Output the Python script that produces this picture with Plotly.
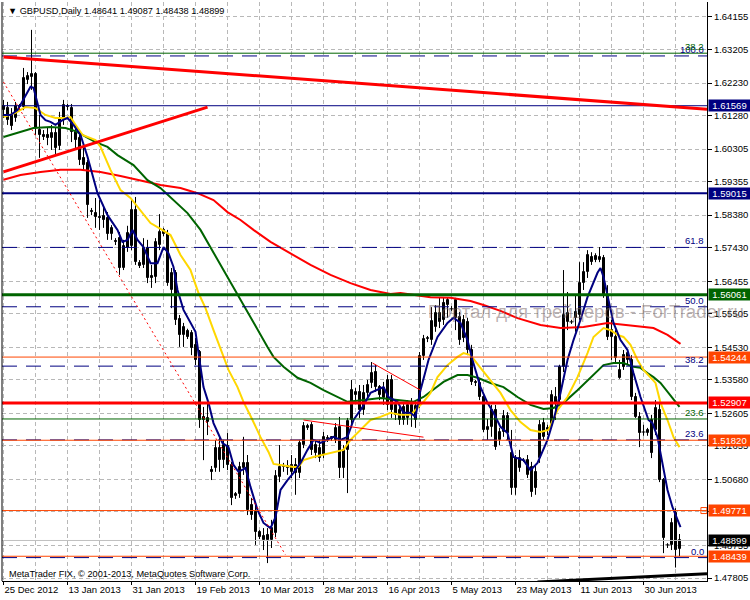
import plotly.graph_objects as go

# ---------------- data ----------------
date_label_bars = [0, 16, 32, 48, 64, 80, 96, 112, 128, 144, 160]
date_labels = ["25 Dec 2012", "13 Jan 2013", "31 Jan 2013", "19 Feb 2013", "10 Mar 2013",
               "28 Mar 2013", "16 Apr 2013", "5 May 2013", "23 May 2013", "11 Jun 2013", "30 Jun 2013"]

opens = [1.6144, 1.6150, 1.6130, 1.6121, 1.6156, 1.6153, 1.6232, 1.6241, 1.6249, 1.6086,
         1.6072, 1.6072, 1.6063, 1.6078, 1.6040, 1.6121, 1.6156, 1.6150, 1.6080, 1.6063,
         1.6005, 1.5990, 1.5850, 1.5844, 1.5833, 1.5836, 1.5830, 1.5783, 1.5763, 1.5771,
         1.5684, 1.5742, 1.5748, 1.5853, 1.5698, 1.5693, 1.5742, 1.5661, 1.5658, 1.5751,
         1.5795, 1.5783, 1.5620, 1.5670, 1.5536, 1.5489, 1.5501, 1.5495, 1.5460, 1.5439,
         1.5250, 1.5235, 1.5095, 1.5101, 1.5159, 1.5124, 1.5165, 1.5110, 1.5020, 1.5025,
         1.5101, 1.5116, 1.4993, 1.4973, 1.4915, 1.4903, 1.4906, 1.4891, 1.4912, 1.5075,
         1.5104, 1.5107, 1.5090, 1.5110, 1.5087, 1.5168, 1.5218, 1.5227, 1.5168, 1.5130,
         1.5139, 1.5189, 1.5186, 1.5183, 1.5221, 1.5101, 1.5154, 1.5241, 1.5314, 1.5323,
         1.5270, 1.5320, 1.5349, 1.5381, 1.5337, 1.5305, 1.5285, 1.5358, 1.5285, 1.5241,
         1.5279, 1.5247, 1.5285, 1.5241, 1.5285, 1.5428, 1.5477, 1.5474, 1.5512, 1.5527,
         1.5582, 1.5576, 1.5565, 1.5539, 1.5541, 1.5533, 1.5527, 1.5445, 1.5352, 1.5349,
         1.5308, 1.5212, 1.5221, 1.5270, 1.5183, 1.5206, 1.5253, 1.5145, 1.5043, 1.5101,
         1.5124, 1.5081, 1.5104, 1.5090, 1.5130, 1.5192, 1.5212, 1.5230, 1.5291, 1.5299,
         1.5396, 1.5527, 1.5527, 1.5556, 1.5547, 1.5640, 1.5672, 1.5716, 1.5719, 1.5707,
         1.5713, 1.5605, 1.5483, 1.5483, 1.5364, 1.5430, 1.5416, 1.5416, 1.5308, 1.5250,
         1.5206, 1.5203, 1.5241, 1.5212, 1.5270, 1.5066, 1.4877, 1.4877, 1.4970, 1.48641]
highs = [1.6174, 1.6168, 1.6150, 1.6168, 1.6162, 1.6267, 1.6255, 1.6378, 1.6255, 1.6130,
         1.6086, 1.6092, 1.6101, 1.6092, 1.6139, 1.6174, 1.6162, 1.6162, 1.6101, 1.6080,
         1.6034, 1.5999, 1.5859, 1.5888, 1.5882, 1.5868, 1.5847, 1.5809, 1.5771, 1.5789,
         1.5766, 1.5807, 1.5882, 1.5891, 1.5707, 1.5771, 1.5766, 1.5693, 1.5771, 1.5841,
         1.5801, 1.5795, 1.5684, 1.5678, 1.5547, 1.5524, 1.5507, 1.5503, 1.5480, 1.5445,
         1.5279, 1.5299, 1.5107, 1.5183, 1.5189, 1.5183, 1.5203, 1.5119, 1.5031, 1.5119,
         1.5192, 1.5139, 1.5014, 1.4993, 1.4920, 1.4926, 1.4926, 1.4950, 1.5095, 1.5168,
         1.5116, 1.5124, 1.5139, 1.5130, 1.5183, 1.5235, 1.5230, 1.5235, 1.5183, 1.5183,
         1.5206, 1.5197, 1.5194, 1.5232, 1.5250, 1.5168, 1.5247, 1.5358, 1.5334, 1.5343,
         1.5343, 1.5358, 1.5410, 1.5402, 1.5343, 1.5352, 1.5372, 1.5372, 1.5299, 1.5285,
         1.5291, 1.5299, 1.5305, 1.5299, 1.5439, 1.5489, 1.5486, 1.5570, 1.5576, 1.5597,
         1.5599, 1.5597, 1.5573, 1.5597, 1.5556, 1.5547, 1.5539, 1.5460, 1.5358, 1.5364,
         1.5320, 1.5244, 1.5285, 1.5285, 1.5218, 1.5270, 1.5264, 1.5212, 1.5139, 1.5154,
         1.5130, 1.5139, 1.5119, 1.5110, 1.5241, 1.5247, 1.5227, 1.5328, 1.5337, 1.5402,
         1.5678, 1.5614, 1.5533, 1.5605, 1.5701, 1.5701, 1.5736, 1.5730, 1.5727, 1.5745,
         1.5722, 1.5634, 1.5533, 1.5503, 1.5416, 1.5445, 1.5445, 1.5430, 1.5320, 1.5264,
         1.5227, 1.5218, 1.5256, 1.5299, 1.5291, 1.5072, 1.4882, 1.4955, 1.4984, 1.49087]
lows = [1.6121, 1.6101, 1.6086, 1.6110, 1.6144, 1.6144, 1.6220, 1.6203, 1.6072, 1.6005,
        1.6057, 1.6042, 1.6028, 1.6013, 1.6028, 1.6101, 1.6144, 1.6051, 1.6028, 1.5984,
        1.5970, 1.5830, 1.5838, 1.5801, 1.5795, 1.5801, 1.5766, 1.5766, 1.5751, 1.5664,
        1.5678, 1.5731, 1.5736, 1.5693, 1.5684, 1.5684, 1.5640, 1.5626, 1.5640, 1.5736,
        1.5777, 1.5632, 1.5567, 1.5518, 1.5454, 1.5454, 1.5477, 1.5430, 1.5401, 1.5218,
        1.5124, 1.5197, 1.5066, 1.5090, 1.5090, 1.5101, 1.5095, 1.4993, 1.5011, 1.5014,
        1.5081, 1.4964, 1.4950, 1.4877, 1.4894, 1.4862, 1.4824, 1.4868, 1.4900, 1.5060,
        1.5090, 1.5081, 1.5072, 1.5023, 1.5072, 1.5159, 1.5212, 1.5139, 1.5130, 1.5119,
        1.5130, 1.5177, 1.5180, 1.5174, 1.5072, 1.5072, 1.5028, 1.5218, 1.5299, 1.5247,
        1.5256, 1.5305, 1.5334, 1.5323, 1.5299, 1.5285, 1.5270, 1.5247, 1.5241, 1.5227,
        1.5227, 1.5227, 1.5221, 1.5218, 1.5276, 1.5416, 1.5468, 1.5460, 1.5498, 1.5509,
        1.5518, 1.5539, 1.5559, 1.5503, 1.5460, 1.5468, 1.5430, 1.5343, 1.5340, 1.5299,
        1.5206, 1.5183, 1.5192, 1.5154, 1.5168, 1.5192, 1.5183, 1.5023, 1.5023, 1.5090,
        1.5119, 1.5072, 1.5017, 1.5023, 1.5116, 1.5183, 1.5197, 1.5224, 1.5241, 1.5291,
        1.5381, 1.5503, 1.5521, 1.5498, 1.5533, 1.5620, 1.5655, 1.5693, 1.5701, 1.5701,
        1.5597, 1.5474, 1.5416, 1.5410, 1.5361, 1.5387, 1.5401, 1.5299, 1.5247, 1.5162,
        1.5195, 1.5195, 1.5130, 1.5197, 1.5060, 1.4853, 1.4868, 1.4862, 1.4811, 1.48438]
closes = [1.6156, 1.6115, 1.6098, 1.6156, 1.6153, 1.6238, 1.6244, 1.6250, 1.6092, 1.6072,
          1.6066, 1.6063, 1.6078, 1.6034, 1.6121, 1.6159, 1.6153, 1.6080, 1.6057, 1.5999,
          1.5984, 1.5868, 1.5847, 1.5833, 1.5830, 1.5824, 1.5783, 1.5801, 1.5760, 1.5684,
          1.5748, 1.5786, 1.5853, 1.5701, 1.5690, 1.5742, 1.5655, 1.5655, 1.5760, 1.5789,
          1.5783, 1.5640, 1.5670, 1.5533, 1.5489, 1.5512, 1.5483, 1.5451, 1.5416, 1.5241,
          1.5241, 1.5247, 1.5090, 1.5159, 1.5124, 1.5168, 1.5110, 1.5014, 1.5025, 1.5104,
          1.5116, 1.4979, 1.4964, 1.4915, 1.4900, 1.4891, 1.4891, 1.4926, 1.5078, 1.5104,
          1.5107, 1.5101, 1.5110, 1.5087, 1.5174, 1.5224, 1.5224, 1.5154, 1.5145, 1.5159,
          1.5192, 1.5186, 1.5192, 1.5218, 1.5101, 1.5154, 1.5238, 1.5328, 1.5323, 1.5270,
          1.5320, 1.5343, 1.5378, 1.5337, 1.5314, 1.5334, 1.5358, 1.5270, 1.5256, 1.5270,
          1.5241, 1.5285, 1.5256, 1.5282, 1.5428, 1.5477, 1.5480, 1.5530, 1.5553, 1.5553,
          1.5533, 1.5591, 1.5565, 1.5591, 1.5474, 1.5480, 1.5445, 1.5352, 1.5349, 1.5308,
          1.5212, 1.5221, 1.5270, 1.5162, 1.5206, 1.5253, 1.5203, 1.5043, 1.5130, 1.5130,
          1.5124, 1.5124, 1.5031, 1.5043, 1.5227, 1.5233, 1.5218, 1.5314, 1.5308, 1.5396,
          1.5547, 1.5553, 1.5527, 1.5539, 1.5640, 1.5672, 1.5722, 1.5701, 1.5707, 1.5716,
          1.5605, 1.5483, 1.5503, 1.5422, 1.5387, 1.5396, 1.5436, 1.5308, 1.5250, 1.5203,
          1.5206, 1.5212, 1.5145, 1.5276, 1.5066, 1.4897, 1.4877, 1.4941, 1.4862, 1.48899]

# moving averages: (bar index, price)
ma_blue_x = [0, 1.75, 3.5, 5, 6.75, 7.5, 8.5, 9.25, 10.5, 11.75, 13, 14.75, 16, 17.5, 19.25, 21, 23.5, 26,
             28.5, 29.75, 31, 32.25, 33.5, 35, 36.75, 38.5, 40, 41.25, 42.5, 43.5, 45, 46.75, 48, 48.75,
             50, 51.25, 52.5, 54.75, 56.25, 57.5, 58.75, 60.5, 61.75, 63.5, 65, 66.75, 68, 69.25, 71,
             72.5, 74.25, 76, 77.5, 79.25, 81, 82.5, 84.25, 86, 87.5, 89.75, 91.75, 93.5, 95, 96.25,
             98.5, 100, 101.75, 103, 104.25, 106.25, 108.5, 111, 112.5, 114.25, 116, 117.25, 119.25,
             121, 122.5, 124.25, 126, 127.5, 130, 131.75, 133.5, 136, 137.5, 139.25, 141, 142.5,
             144.25, 146, 148.5, 149.25, 150, 151.25, 152.5, 154.25, 156, 157.5, 159.25, 161.25,
             162.25, 163.5, 164.75, 166, 167.25, 168.5, 169.25]
ma_blue_y = [1.6130, 1.6130, 1.6144, 1.6174, 1.6212, 1.6209, 1.6159, 1.6130, 1.6115, 1.6110, 1.6101,
             1.6115, 1.6121, 1.6101, 1.6072, 1.6008, 1.5902, 1.5838, 1.5795, 1.5760, 1.5766, 1.5795,
             1.5766, 1.5745, 1.5698, 1.5698, 1.5745, 1.5727, 1.5687, 1.5620, 1.5562, 1.5524, 1.5498,
             1.5436, 1.5337, 1.5291, 1.5232, 1.5174, 1.5162, 1.5110, 1.5090, 1.5101, 1.5046, 1.4979,
             1.4941, 1.4926, 1.4958, 1.5037, 1.5066, 1.5087, 1.5116, 1.5154, 1.5183, 1.5174, 1.5183,
             1.5192, 1.5183, 1.5192, 1.5241, 1.5279, 1.5320, 1.5328, 1.5337, 1.5308, 1.5294, 1.5262,
             1.5262, 1.5250, 1.5328, 1.5416, 1.5483, 1.5524, 1.5539, 1.5524, 1.5474, 1.5416, 1.5337,
             1.5291, 1.5262, 1.5221, 1.5203, 1.5133, 1.5124, 1.5095, 1.5116, 1.5183, 1.5241, 1.5320,
             1.5416, 1.5474, 1.5533, 1.5599, 1.5670, 1.5684, 1.5658, 1.5591, 1.5524, 1.5474, 1.5445,
             1.5378, 1.5308, 1.5241, 1.5232, 1.5191, 1.5116, 1.5037, 1.4987, 1.4950, 1.4929]

ma_yellow_x = [0, 3, 5.5, 8, 10.5, 13, 15.5, 16.75, 18, 19.75, 23, 24.25, 26.75, 29.25, 31.75, 34.25,
               36.75, 39.25, 41.75, 44.25, 46.75, 48.75, 50.5, 52.5, 54.75, 56.25, 58.5, 60, 62.25,
               64.25, 66.25, 67.5, 69.25, 72.5, 73.75, 75, 77.5, 79.75, 82.5, 85, 86.75, 89.25, 91.75,
               94.25, 96.75, 99.25, 101.75, 103.5, 105, 106.75, 108.5, 111, 113.5, 115, 116.75, 119.25,
               121.75, 124.25, 126.75, 129.25, 131.75, 134.25, 136.25, 138.5, 141, 143.5, 146, 147.5,
               150, 151.75, 153.5, 155, 156.75, 158.5, 160, 161.75, 163, 164.25, 166, 167.5, 169]
ma_yellow_y = [1.6124, 1.6136, 1.6153, 1.6150, 1.6130, 1.6121, 1.6121, 1.6124, 1.6101, 1.6072, 1.6057,
               1.6037, 1.5970, 1.5911, 1.5888, 1.5853, 1.5815, 1.5798, 1.5780, 1.5722, 1.5678, 1.5611,
               1.5567, 1.5503, 1.5436, 1.5387, 1.5337, 1.5294, 1.5241, 1.5191, 1.5148, 1.5113, 1.5110,
               1.5104, 1.5104, 1.5124, 1.5133, 1.5139, 1.5148, 1.5154, 1.5183, 1.5212, 1.5241, 1.5250,
               1.5262, 1.5256, 1.5256, 1.5276, 1.5294, 1.5320, 1.5366, 1.5401, 1.5425, 1.5436, 1.5430,
               1.5393, 1.5358, 1.5320, 1.5270, 1.5235, 1.5212, 1.5206, 1.5212, 1.5270, 1.5308, 1.5366,
               1.5436, 1.5483, 1.5509, 1.5503, 1.5489, 1.5483, 1.5460, 1.5416, 1.5387, 1.5366, 1.5349,
               1.5291, 1.5241, 1.5191, 1.5162]

ma_green_x = [0, 4.25, 7.5, 11.75, 15.5, 18, 20.5, 23, 26, 28.5, 32.5, 36, 39.25, 42.5, 46, 49.25, 52.5,
              56, 59.25, 62.5, 66, 67.5, 70, 73.5, 76.75, 80, 83.5, 86, 88.5, 91.75, 94.25, 98.5, 102.5,
              105, 106.75, 110, 113.5, 116, 118.5, 121.75, 125, 128.5, 131.75, 135, 137.5, 140, 143.5,
              146.75, 150, 152.5, 155, 157.5, 159.25, 161, 162.5, 164.25, 166.25, 168, 169]
ma_green_y = [1.6066, 1.6080, 1.6092, 1.6095, 1.6092, 1.6083, 1.6066, 1.6051, 1.6037, 1.6013, 1.5984,
              1.5940, 1.5917, 1.5882, 1.5844, 1.5795, 1.5728, 1.5658, 1.5591, 1.5524, 1.5454, 1.5425,
              1.5396, 1.5364, 1.5349, 1.5328, 1.5308, 1.5294, 1.5297, 1.5302, 1.5305, 1.5299, 1.5294,
              1.5308, 1.5323, 1.5352, 1.5372, 1.5372, 1.5364, 1.5349, 1.5337, 1.5308, 1.5285, 1.5273,
              1.5276, 1.5291, 1.5328, 1.5366, 1.5401, 1.5407, 1.5407, 1.5396, 1.5393, 1.5378, 1.5366,
              1.5349, 1.5320, 1.5294, 1.5279]

ma_red_x = [0, 4.25, 9.25, 14.25, 19.25, 24.25, 29.25, 34.25, 39.25, 44.25, 48.5, 52.5, 56, 59.25, 62.5,
            66.75, 71.75, 76.75, 81.75, 86.75, 91.75, 96.75, 99.25, 106.75, 111.75, 116.75, 120, 124.25,
            128.5, 134.25, 139.25, 145, 151, 157.5, 162.5, 166, 169.25]
ma_red_y = [1.5941, 1.5955, 1.5964, 1.5970, 1.5970, 1.5964, 1.5952, 1.5938, 1.5926, 1.5917, 1.5902,
            1.5882, 1.5847, 1.5824, 1.5795, 1.5760, 1.5727, 1.5693, 1.5664, 1.5640, 1.5620, 1.5608,
            1.5611, 1.5599, 1.5597, 1.5588, 1.5576, 1.5559, 1.5538, 1.5518, 1.5509, 1.5512, 1.5524,
            1.5515, 1.5509, 1.5489, 1.5463]

base_line_x = [133.5, 144, 160, 175.875]
base_line_y = [1.4769, 1.4775, 1.4784, 1.4793]

price_ticks = [1.64155, 1.63205, 1.62230, 1.61280, 1.60305, 1.59355, 1.58380, 1.57430, 1.56455,
               1.55505, 1.54530, 1.53580, 1.52605, 1.51655, 1.50680, 1.49730, 1.48755, 1.47805]

level_prices = [1.61569, 1.59015, 1.56061, 1.54244, 1.52907, 1.51820, 1.49771, 1.48899, 1.48439]
level_box_colors = ["#000080", "#000080", "#006400", "#FF4500", "#FF0000", "#FF4500", "#FF4500", "#000000", "#FF4500"]
level_line_colors = ["#000080", "#000080", "#006400", "#FF4500", "#FF0000", "#FF4500", "#FF4500", "#C0C0C0", "#FF4500"]
level_widths = [1, 2, 3, 1, 3, 1, 1, 1, 1]

fib_levels = [1.6302, 1.5744, 1.5571, 1.5398, 1.5183, 1.4840]
fib_texts = ["100.0", "61.8", "50.0", "38.2", "23.6", "0.0"]
fib2_levels = [1.6310, 1.5244]
fib2_texts = ["38.2", "23.6"]

trend_x0 = [0, 0, 0, 75, 92.25]
trend_y0 = [1.6299, 1.5964, 1.6226, 1.5241, 1.5407]
trend_x1 = [175.875, 51, 70.5, 105, 104.25]
trend_y1 = [1.6147, 1.6153, 1.4848, 1.5191, 1.5328]
trend_widths = [3, 3, 1, 1, 1]
trend_dash = ["solid", "solid", "2px,3px", "solid", "solid"]

title_text = "GBPUSD,Daily 1.48641 1.49087 1.48438 1.48899"
copyright_text = "MetaTrader FIX, © 2001-2013, MetaQuotes Software Corp."
watermark_text = "Портал для трейдеров - ForTrader.ru"

# ---------------- figure ----------------
X0, X1 = -0.375, 175.875
Y0, Y1 = 1.47718, 1.64592
FONT = "Liberation Sans, Arial, sans-serif"
GRID = "#B8B8B8"
AXFS = 9.5

fig = go.Figure()

n = len(opens)
idx = list(range(n))

# wicks
wx, wy = [], []
for i in idx:
    wx += [i, i, None]
    wy += [lows[i], highs[i], None]
fig.add_trace(go.Scatter(x=wx, y=wy, mode="lines", line=dict(color="black", width=1),
                         hoverinfo="skip"))

# bodies
ux, ub, uh, dx, db, dh, tx, ty = [], [], [], [], [], [], [], []
for i in idx:
    o, c = opens[i], closes[i]
    if abs(c - o) < 0.00015:
        tx += [i - 0.5, i + 0.5, None]
        ty += [o, o, None]
    elif c > o:
        ux.append(i); ub.append(o); uh.append(c - o)
    else:
        dx.append(i); db.append(c); dh.append(o - c)
fig.add_trace(go.Bar(x=dx, y=dh, base=db, width=0.5,
                     marker=dict(color="black", line=dict(color="black", width=1))))
fig.add_trace(go.Bar(x=ux, y=uh, base=ub, width=0.5,
                     marker=dict(color="white", line=dict(color="black", width=1))))
fig.add_trace(go.Scatter(x=tx, y=ty, mode="lines", line=dict(color="black", width=1)))

# moving averages
fig.add_trace(go.Scatter(x=ma_red_x, y=ma_red_y, mode="lines", line=dict(color="#FF0000", width=2)))
fig.add_trace(go.Scatter(x=ma_green_x, y=ma_green_y, mode="lines", line=dict(color="#006400", width=2)))
fig.add_trace(go.Scatter(x=ma_yellow_x, y=ma_yellow_y, mode="lines", line=dict(color="#FFD700", width=2)))
fig.add_trace(go.Scatter(x=ma_blue_x, y=ma_blue_y, mode="lines", line=dict(color="#000080", width=2)))
fig.add_trace(go.Scatter(x=base_line_x, y=base_line_y, mode="lines", line=dict(color="black", width=3)))

shapes = []
for p in fib_levels:
    shapes.append(dict(type="line", xref="x", yref="y", x0=X0, x1=X1, y0=p, y1=p, layer="above",
                       line=dict(color="#000080", width=1, dash="15px,9px")))
for p in fib2_levels:
    shapes.append(dict(type="line", xref="x", yref="y", x0=X0, x1=X1, y0=p, y1=p, layer="above",
                       line=dict(color="#006400", width=1)))
for p, col, w in zip(level_prices, level_line_colors, level_widths):
    shapes.append(dict(type="line", xref="x", yref="y", x0=X0, x1=X1, y0=p, y1=p, layer="above",
                       line=dict(color=col, width=w)))
for a, b, c, d, w, ds in zip(trend_x0, trend_y0, trend_x1, trend_y1, trend_widths, trend_dash):
    shapes.append(dict(type="line", xref="x", yref="y", x0=a, y0=b, x1=c, y1=d, layer="above",
                       line=dict(color="#FF0000", width=w, dash=ds)))
shapes.append(dict(type="line", xref="paper", yref="paper", x0=0, x1=0, y0=0, y1=1,
                   line=dict(color="black", width=1)))

fig.add_trace(go.Scatter(x=[175.1], y=[level_prices[6]], mode="markers",
                         marker=dict(symbol="square-open", size=6, color="#FF4500", line=dict(width=1))))

annotations = []
for p, col in zip(level_prices, level_box_colors):
    annotations.append(dict(xref="paper", yref="y", x=1, y=p, xanchor="left", yanchor="middle",
                            xshift=1, text=f"{p:.5f}", showarrow=False, bgcolor=col,
                            font=dict(family=FONT, size=AXFS, color="white"),
                            width=41, height=11, align="center", borderpad=0))
for p, t in zip(fib_levels, fib_texts):
    annotations.append(dict(xref="paper", yref="y", x=1, y=p, xanchor="right", yanchor="bottom",
                            xshift=-1, yshift=-1, text=t, showarrow=False,
                            font=dict(family=FONT, size=AXFS, color="#000080")))
for p, t in zip(fib2_levels, fib2_texts):
    annotations.append(dict(xref="paper", yref="y", x=1, y=p, xanchor="right", yanchor="bottom",
                            xshift=-1, yshift=-1, text=t, showarrow=False,
                            font=dict(family=FONT, size=AXFS, color="#006400")))
annotations.append(dict(xref="paper", yref="paper", x=0, y=1, xanchor="left", yanchor="middle",
                        xshift=4, yshift=-9, text="▼ " + title_text, showarrow=False,
                        font=dict(family=FONT, size=9.2, color="black")))
annotations.append(dict(xref="paper", yref="paper", x=0, y=0, xanchor="left", yanchor="middle",
                        xshift=5, yshift=7, text=copyright_text, showarrow=False,
                        font=dict(family=FONT, size=9.2, color="black")))
annotations.append(dict(xref="paper", yref="y", x=0.829, y=1.5556, xanchor="center", yanchor="middle",
                        text=watermark_text, showarrow=False,
                        font=dict(family=FONT, size=18.6, color="rgba(120,100,100,0.5)")))

fig.update_layout(
    width=750, height=600,
    margin=dict(l=2, r=43, t=2, b=19),
    paper_bgcolor="white", plot_bgcolor="white",
    showlegend=False, barmode="overlay", bargap=0,
    font=dict(family=FONT, size=AXFS, color="black"),
    shapes=shapes, annotations=annotations,
    xaxis=dict(range=[X0, X1], tickmode="array", tickvals=date_label_bars, ticktext=date_labels,
               tickangle=0, ticks="outside", ticklen=3, tickcolor="black", showline=True,
               linecolor="black", linewidth=1, showgrid=True, gridcolor=GRID, griddash="4px,3px",
               gridwidth=1, zeroline=False, ticklabelposition="outside right",
               tickfont=dict(family=FONT, size=AXFS, color="black"),
               minor=dict(tickmode="linear", tick0=0, dtick=8, showgrid=True, gridcolor=GRID,
                          griddash="4px,3px", ticks="")),
    yaxis=dict(side="right", range=[Y0, Y1], tickmode="array", tickvals=price_ticks,
               ticktext=[f"{v:.5f}" for v in price_ticks], ticks="outside", ticklen=4,
               tickcolor="black", showline=True, linecolor="black", linewidth=1,
               showgrid=True, gridcolor=GRID, griddash="4px,3px", gridwidth=1, zeroline=False,
               tickfont=dict(family=FONT, size=AXFS, color="black")),
)

fig.write_html("out.html", config={"displayModeBar": False},
               post_script="document.body.style.margin='0';document.body.style.overflow='hidden';")
